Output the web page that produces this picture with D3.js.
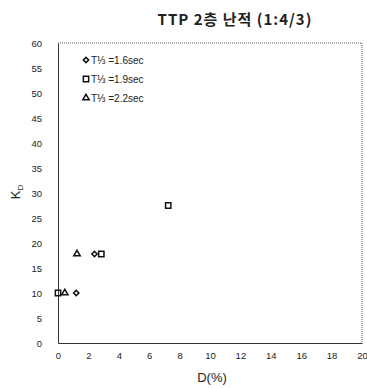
<!DOCTYPE html>
<html>
<head>
<meta charset="utf-8">
<script src="https://cdn.jsdelivr.net/npm/d3@7"></script>
<style>
  body { margin: 0; background: #fff; }
  text { font-family: "Liberation Sans", Arial, sans-serif; fill: #222; }
</style>
</head>
<body>
<div id="chart"></div>
<script>
// series (x = D %, y = K_D)
const seriesNames = ["T⅓ =1.6sec", "T⅓ =1.9sec", "T⅓ =2.2sec"];
const seriesSymbols = ["diamond", "square", "triangle"];
const diamondX = [1.2, 2.4];
const diamondY = [10, 17.8];
const squareX = [0, 2.85, 7.25];
const squareY = [10, 17.8, 27.5];
const triangleX = [0.45, 1.25];
const triangleY = [10, 17.8];
const xTicks = [0, 2, 4, 6, 8, 10, 12, 14, 16, 18, 20];
const yTicks = [0, 5, 10, 15, 20, 25, 30, 35, 40, 45, 50, 55, 60];

const width = 367, height = 388;
const margin = { top: 43, right: 5, bottom: 45, left: 58 };

const svg = d3.select("#chart").append("svg")
    .attr("width", width)
    .attr("height", height);

const x = d3.scaleLinear().domain([0, 20]).range([margin.left, width - margin.right]);
const y = d3.scaleLinear().domain([0, 60]).range([height - margin.bottom, margin.top]);

// frame: top/right dotted, left/bottom solid
svg.append("line")
    .attr("x1", x(0)).attr("x2", x(20)).attr("y1", y(60)).attr("y2", y(60))
    .attr("stroke", "#555").attr("stroke-width", 1).attr("stroke-dasharray", "1,1");
svg.append("line")
    .attr("x1", x(20)).attr("x2", x(20)).attr("y1", y(60)).attr("y2", y(0))
    .attr("stroke", "#555").attr("stroke-width", 1).attr("stroke-dasharray", "1,1");

const xAxis = svg.append("g")
    .attr("transform", `translate(0,${y(0)})`)
    .call(d3.axisBottom(x).tickValues(xTicks).tickSize(0).tickPadding(9));
xAxis.select(".domain").attr("stroke", "#333");
xAxis.selectAll("text").attr("font-size", 9.5);

const yAxis = svg.append("g")
    .attr("transform", `translate(${x(0)},0)`)
    .call(d3.axisLeft(y).tickValues(yTicks).tickSize(0).tickPadding(16));
yAxis.select(".domain").attr("stroke", "#333");
yAxis.selectAll("text").attr("font-size", 9.5);

// titles
svg.append("text")
    .attr("x", 235).attr("y", 25)
    .attr("text-anchor", "middle")
    .attr("font-size", 15).attr("font-weight", "bold")
    .attr("letter-spacing", 1)
    .style("font-family", "'Noto Sans CJK KR', sans-serif")
    .text("TTP 2층 난적 (1:4/3)");

svg.append("text")
    .attr("x", 212).attr("y", 382)
    .attr("text-anchor", "middle")
    .attr("font-size", 13)
    .text("D(%)");

const yl = svg.append("text")
    .attr("transform", "translate(20,192) rotate(-90)")
    .attr("text-anchor", "middle")
    .attr("font-size", 13);
yl.append("tspan").text("K");
yl.append("tspan").attr("font-size", 8).attr("dy", 3).text("D");

// markers
const symType = { diamond: d3.symbolSquare, square: d3.symbolSquare, triangle: d3.symbolTriangle };
const symSize = { diamond: 14, square: 28, triangle: 18 };
const symRot = { diamond: 45, square: 0, triangle: 0 };
function marker(g, kind, cx, cy) {
    g.append("path")
        .attr("d", d3.symbol().type(symType[kind]).size(symSize[kind])())
        .attr("transform", `translate(${cx},${cy}) rotate(${symRot[kind]})`)
        .attr("fill", "none")
        .attr("stroke", "#111")
        .attr("stroke-width", 1.5);
}

const pts = svg.append("g");
const seriesX = [diamondX, squareX, triangleX];
const seriesY = [diamondY, squareY, triangleY];
seriesSymbols.forEach((s, i) => {
    seriesX[i].forEach((v, j) => marker(pts, s, x(v), y(seriesY[i][j])));
});

// legend
const legend = svg.append("g");
seriesNames.forEach((name, i) => {
    const ly = 60 + i * 19;
    marker(legend, seriesSymbols[i], 86, ly);
    legend.append("text")
        .attr("x", 91).attr("y", ly + 3.5)
        .attr("font-size", 10)
        .text(name);
});
</script>
</body>
</html>
